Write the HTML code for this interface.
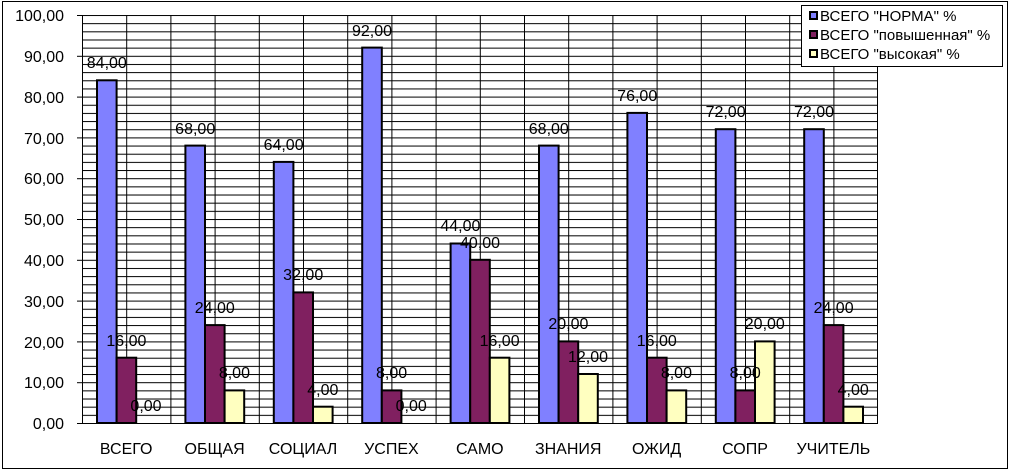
<!DOCTYPE html>
<html><head><meta charset="utf-8"><style>
body{margin:0;background:#fff}
svg text{font-family:"Liberation Sans",Arial,sans-serif;fill:#000}
</style></head><body>
<svg width="1011" height="471" xmlns="http://www.w3.org/2000/svg">
<defs>
<pattern id="h" x="0" y="15" width="10" height="8.16" patternUnits="userSpaceOnUse"><line x1="0" y1="0.5" x2="10" y2="0.5" stroke="#000" stroke-width="1"/></pattern>
<pattern id="v" x="82" y="0" width="44.2" height="10" patternUnits="userSpaceOnUse"><line x1="0.5" y1="0" x2="0.5" y2="10" stroke="#000" stroke-width="1"/></pattern>
</defs>
<rect x="2.5" y="1.5" width="1005" height="467" fill="#fff" stroke="#000" stroke-width="1"/>
<rect x="82" y="15" width="796" height="408" fill="url(#h)"/>
<rect x="82" y="15" width="796" height="408" fill="url(#v)"/>
<line x1="82.5" y1="15" x2="82.5" y2="423" stroke="#000"/>
<line x1="877.5" y1="15" x2="877.5" y2="423" stroke="#000"/>
<line x1="82" y1="423.5" x2="878" y2="423.5" stroke="#000"/>
<g stroke="#000">
<line x1="77" y1="15.5" x2="82" y2="15.5"/><line x1="77" y1="56.3" x2="82" y2="56.3"/><line x1="77" y1="97.1" x2="82" y2="97.1"/><line x1="77" y1="137.9" x2="82" y2="137.9"/><line x1="77" y1="178.7" x2="82" y2="178.7"/><line x1="77" y1="219.5" x2="82" y2="219.5"/><line x1="77" y1="260.3" x2="82" y2="260.3"/><line x1="77" y1="301.1" x2="82" y2="301.1"/><line x1="77" y1="341.9" x2="82" y2="341.9"/><line x1="77" y1="382.7" x2="82" y2="382.7"/><line x1="77" y1="423.5" x2="82" y2="423.5"/>
</g>
<g font-size="16" text-anchor="end">
<text x="64" y="21">100,00</text><text x="64" y="62">90,00</text><text x="64" y="103">80,00</text><text x="64" y="144">70,00</text><text x="64" y="184">60,00</text><text x="64" y="225">50,00</text><text x="64" y="266">40,00</text><text x="64" y="307">30,00</text><text x="64" y="348">20,00</text><text x="64" y="388">10,00</text><text x="64" y="429">0,00</text>
</g>
<g stroke="#000" stroke-width="2">
<g fill="#8080FF">
<rect x="97" y="80.3" width="19.6" height="342.7"/>
<rect x="185.4" y="145.6" width="19.6" height="277.4"/>
<rect x="273.8" y="161.9" width="19.6" height="261.1"/>
<rect x="362.2" y="47.6" width="19.6" height="375.4"/>
<rect x="450.6" y="243.5" width="19.6" height="179.5"/>
<rect x="539" y="145.6" width="19.6" height="277.4"/>
<rect x="627.4" y="112.9" width="19.6" height="310.1"/>
<rect x="715.8" y="129.2" width="19.6" height="293.8"/>
<rect x="804.2" y="129.2" width="19.6" height="293.8"/>
</g>
<g fill="#802060">
<rect x="116.6" y="357.7" width="19.6" height="65.3"/>
<rect x="205" y="325.1" width="19.6" height="97.9"/>
<rect x="293.4" y="292.4" width="19.6" height="130.6"/>
<rect x="381.8" y="390.4" width="19.6" height="32.6"/>
<rect x="470.2" y="259.8" width="19.6" height="163.2"/>
<rect x="558.6" y="341.4" width="19.6" height="81.6"/>
<rect x="647" y="357.7" width="19.6" height="65.3"/>
<rect x="735.4" y="390.4" width="19.6" height="32.6"/>
<rect x="823.8" y="325.1" width="19.6" height="97.9"/>
</g>
<g fill="#FFFFC0">
<rect x="224.6" y="390.4" width="19.6" height="32.6"/>
<rect x="313" y="406.7" width="19.6" height="16.3"/>
<rect x="489.8" y="357.7" width="19.6" height="65.3"/>
<rect x="578.2" y="374" width="19.6" height="49"/>
<rect x="666.6" y="390.4" width="19.6" height="32.6"/>
<rect x="755" y="341.4" width="19.6" height="81.6"/>
<rect x="843.4" y="406.7" width="19.6" height="16.3"/>
</g>
</g>
<g font-size="16" text-anchor="middle">
<text x="106.8" y="68">84,00</text><text x="126.4" y="346">16,00</text><text x="146" y="411">0,00</text>
<text x="195.2" y="134">68,00</text><text x="214.8" y="313">24,00</text><text x="234.4" y="378">8,00</text>
<text x="283.6" y="150">64,00</text><text x="303.2" y="280">32,00</text><text x="322.8" y="395">4,00</text>
<text x="372" y="36">92,00</text><text x="391.6" y="378">8,00</text><text x="411.2" y="411">0,00</text>
<text x="460.4" y="231">44,00</text><text x="480" y="248">40,00</text><text x="499.6" y="346">16,00</text>
<text x="548.8" y="134">68,00</text><text x="568.4" y="329">20,00</text><text x="588" y="362">12,00</text>
<text x="637.2" y="101">76,00</text><text x="656.8" y="346">16,00</text><text x="676.4" y="378">8,00</text>
<text x="725.6" y="117">72,00</text><text x="745.2" y="378">8,00</text><text x="764.8" y="329">20,00</text>
<text x="814" y="117">72,00</text><text x="833.6" y="313">24,00</text><text x="853.2" y="395">4,00</text>
</g>
<g font-size="16" text-anchor="middle">
<text x="126.2" y="454">ВСЕГО</text><text x="214.6" y="454">ОБЩАЯ</text><text x="303" y="454">СОЦИАЛ</text><text x="391.4" y="454">УСПЕХ</text><text x="479.8" y="454">САМО</text><text x="568.2" y="454">ЗНАНИЯ</text><text x="656.6" y="454">ОЖИД</text><text x="745" y="454">СОПР</text><text x="833.4" y="454">УЧИТЕЛЬ</text>
</g>
<rect x="801.5" y="5.5" width="201" height="61" fill="#fff" stroke="#000"/>
<g stroke="#000" stroke-width="2">
<rect x="810" y="12" width="7" height="7" fill="#8080FF"/>
<rect x="810" y="31" width="7" height="7" fill="#802060"/>
<rect x="810" y="50" width="7" height="7" fill="#FFFFC0"/>
</g>
<g font-size="15">
<text x="820" y="21">ВСЕГО "НОРМА" %</text>
<text x="820" y="40">ВСЕГО "повышенная"  %</text>
<text x="820" y="59">ВСЕГО "высокая" %</text>
</g>
</svg>
</body></html>
